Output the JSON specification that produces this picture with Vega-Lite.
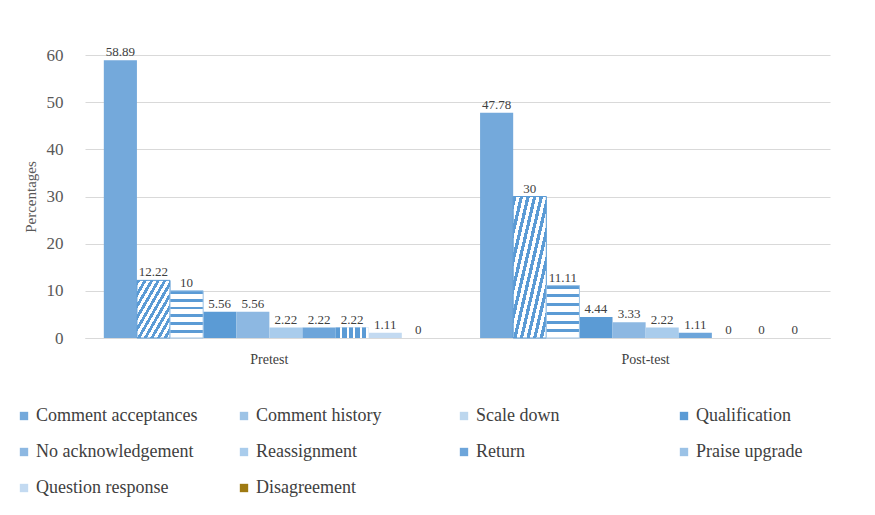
{
  "$schema": "https://vega.github.io/schema/vega-lite/v6.json",
  "width": 745,
  "height": 283,
  "autosize": {"type": "none"},
  "padding": {"left": 85, "top": 55, "right": 45, "bottom": 177},
  "background": "white",
  "config": {"view": {"stroke": null}, "font": "Liberation Serif"},
  "data": {
    "values": [
      {"test": "Pretest", "category": "Comment acceptances", "value": 58.89},
      {"test": "Pretest", "category": "Comment history", "value": 12.22},
      {"test": "Pretest", "category": "Scale down", "value": 10},
      {"test": "Pretest", "category": "Qualification", "value": 5.56},
      {"test": "Pretest", "category": "No acknowledgement", "value": 5.56},
      {"test": "Pretest", "category": "Reassignment", "value": 2.22},
      {"test": "Pretest", "category": "Return", "value": 2.22},
      {"test": "Pretest", "category": "Praise upgrade", "value": 2.22},
      {"test": "Pretest", "category": "Question response", "value": 1.11},
      {"test": "Pretest", "category": "Disagreement", "value": 0},
      {"test": "Post-test", "category": "Comment acceptances", "value": 47.78},
      {"test": "Post-test", "category": "Comment history", "value": 30},
      {"test": "Post-test", "category": "Scale down", "value": 11.11},
      {"test": "Post-test", "category": "Qualification", "value": 4.44},
      {"test": "Post-test", "category": "No acknowledgement", "value": 3.33},
      {"test": "Post-test", "category": "Reassignment", "value": 2.22},
      {"test": "Post-test", "category": "Return", "value": 1.11},
      {"test": "Post-test", "category": "Praise upgrade", "value": 0},
      {"test": "Post-test", "category": "Question response", "value": 0},
      {"test": "Post-test", "category": "Disagreement", "value": 0}
    ]
  },
  "encoding": {
    "x": {
      "field": "test", "type": "nominal", "sort": ["Pretest", "Post-test"],
      "scale": {"paddingInner": 0.12, "paddingOuter": 0.05},
      "axis": {"title": null, "labelAngle": 0, "labelFontSize": 14, "labelColor": "#404040", "domainColor": "#d9d9d9", "ticks": false, "labelPadding": 14}
    },
    "xOffset": {
      "field": "category", "type": "nominal",
      "sort": ["Comment acceptances", "Comment history", "Scale down", "Qualification", "No acknowledgement", "Reassignment", "Return", "Praise upgrade", "Question response", "Disagreement"]
    },
    "y": {
      "field": "value", "type": "quantitative",
      "scale": {"domain": [0, 60]},
      "axis": {"title": "Percentages", "values": [0, 10, 20, 30, 40, 50, 60], "domain": false, "ticks": false, "gridColor": "#d9d9d9", "labelFontSize": 17, "labelColor": "#595959", "labelPadding": 22, "titleFontSize": 15, "titleFontWeight": "normal", "titleColor": "#595959", "titlePadding": 8}
    }
  },
  "layer": [
    {
      "mark": {"type": "bar"},
      "encoding": {
        "color": {
          "field": "category", "type": "nominal",
          "sort": ["Comment acceptances", "Comment history", "Scale down", "Qualification", "No acknowledgement", "Reassignment", "Return", "Praise upgrade", "Question response", "Disagreement"],
          "scale": {"range": ["#74A9DB", "#9DC3E6", "#BDD7EE", "#5B9BD5", "#8DB8E2", "#A9CCEC", "#6DA5DA", "#9BC2E6", "#C3DAF1", "#9E7A12"]},
          "legend": {
            "title": null, "orient": "none", "legendX": -70, "legendY": 352, "direction": "horizontal",
            "columns": 4, "gridAlign": "all", "columnPadding": 37, "rowPadding": 18,
            "labelFontSize": 18, "labelColor": "#404040", "symbolType": "square", "symbolSize": 70, "symbolStrokeWidth": 0, "labelOffset": 3, "labelLimit": 300
          }
        }
      }
    },
    {
      "transform": [{"filter": "datum.category === 'Comment history'"}],
      "mark": {
        "type": "bar", "stroke": "#5B9BD5", "strokeWidth": 1,
        "fill": {
          "gradient": "linear", "x1": 0, "y1": 0, "x2": 1, "y2": 1,
          "stops": [
            {"offset": 0, "color": "#5B9BD5"}, {"offset": 0.05, "color": "#5B9BD5"}, {"offset": 0.05, "color": "#FFFFFF"}, {"offset": 0.1, "color": "#FFFFFF"},
            {"offset": 0.1, "color": "#5B9BD5"}, {"offset": 0.15, "color": "#5B9BD5"}, {"offset": 0.15, "color": "#FFFFFF"}, {"offset": 0.2, "color": "#FFFFFF"},
            {"offset": 0.2, "color": "#5B9BD5"}, {"offset": 0.25, "color": "#5B9BD5"}, {"offset": 0.25, "color": "#FFFFFF"}, {"offset": 0.3, "color": "#FFFFFF"},
            {"offset": 0.3, "color": "#5B9BD5"}, {"offset": 0.35, "color": "#5B9BD5"}, {"offset": 0.35, "color": "#FFFFFF"}, {"offset": 0.4, "color": "#FFFFFF"},
            {"offset": 0.4, "color": "#5B9BD5"}, {"offset": 0.45, "color": "#5B9BD5"}, {"offset": 0.45, "color": "#FFFFFF"}, {"offset": 0.5, "color": "#FFFFFF"},
            {"offset": 0.5, "color": "#5B9BD5"}, {"offset": 0.55, "color": "#5B9BD5"}, {"offset": 0.55, "color": "#FFFFFF"}, {"offset": 0.6, "color": "#FFFFFF"},
            {"offset": 0.6, "color": "#5B9BD5"}, {"offset": 0.65, "color": "#5B9BD5"}, {"offset": 0.65, "color": "#FFFFFF"}, {"offset": 0.7, "color": "#FFFFFF"},
            {"offset": 0.7, "color": "#5B9BD5"}, {"offset": 0.75, "color": "#5B9BD5"}, {"offset": 0.75, "color": "#FFFFFF"}, {"offset": 0.8, "color": "#FFFFFF"},
            {"offset": 0.8, "color": "#5B9BD5"}, {"offset": 0.85, "color": "#5B9BD5"}, {"offset": 0.85, "color": "#FFFFFF"}, {"offset": 0.9, "color": "#FFFFFF"},
            {"offset": 0.9, "color": "#5B9BD5"}, {"offset": 0.95, "color": "#5B9BD5"}, {"offset": 0.95, "color": "#FFFFFF"}, {"offset": 1, "color": "#FFFFFF"}
          ]
        }
      }
    },
    {
      "transform": [{"filter": "datum.category === 'Scale down'"}],
      "mark": {
        "type": "bar", "stroke": "#9DC3E6", "strokeWidth": 1,
        "fill": {
          "gradient": "linear", "x1": 0, "y1": 0, "x2": 0, "y2": 1,
          "stops": [
            {"offset": 0, "color": "#5B9BD5"}, {"offset": 0.06, "color": "#5B9BD5"}, {"offset": 0.06, "color": "#FFFFFF"}, {"offset": 0.1667, "color": "#FFFFFF"},
            {"offset": 0.1667, "color": "#5B9BD5"}, {"offset": 0.2267, "color": "#5B9BD5"}, {"offset": 0.2267, "color": "#FFFFFF"}, {"offset": 0.3333, "color": "#FFFFFF"},
            {"offset": 0.3333, "color": "#5B9BD5"}, {"offset": 0.3933, "color": "#5B9BD5"}, {"offset": 0.3933, "color": "#FFFFFF"}, {"offset": 0.5, "color": "#FFFFFF"},
            {"offset": 0.5, "color": "#5B9BD5"}, {"offset": 0.56, "color": "#5B9BD5"}, {"offset": 0.56, "color": "#FFFFFF"}, {"offset": 0.6667, "color": "#FFFFFF"},
            {"offset": 0.6667, "color": "#5B9BD5"}, {"offset": 0.7267, "color": "#5B9BD5"}, {"offset": 0.7267, "color": "#FFFFFF"}, {"offset": 0.8333, "color": "#FFFFFF"},
            {"offset": 0.8333, "color": "#5B9BD5"}, {"offset": 0.8933, "color": "#5B9BD5"}, {"offset": 0.8933, "color": "#FFFFFF"}, {"offset": 1, "color": "#FFFFFF"}
          ]
        }
      }
    },
    {
      "transform": [{"filter": "datum.category === 'Praise upgrade'"}],
      "mark": {
        "type": "bar",
        "fill": {
          "gradient": "linear", "x1": 0, "y1": 0, "x2": 1, "y2": 0,
          "stops": [
            {"offset": 0, "color": "#5B9BD5"}, {"offset": 0.13, "color": "#5B9BD5"}, {"offset": 0.13, "color": "#FFFFFF"}, {"offset": 0.2, "color": "#FFFFFF"},
            {"offset": 0.2, "color": "#5B9BD5"}, {"offset": 0.33, "color": "#5B9BD5"}, {"offset": 0.33, "color": "#FFFFFF"}, {"offset": 0.4, "color": "#FFFFFF"},
            {"offset": 0.4, "color": "#5B9BD5"}, {"offset": 0.53, "color": "#5B9BD5"}, {"offset": 0.53, "color": "#FFFFFF"}, {"offset": 0.6, "color": "#FFFFFF"},
            {"offset": 0.6, "color": "#5B9BD5"}, {"offset": 0.73, "color": "#5B9BD5"}, {"offset": 0.73, "color": "#FFFFFF"}, {"offset": 0.8, "color": "#FFFFFF"},
            {"offset": 0.8, "color": "#5B9BD5"}, {"offset": 0.93, "color": "#5B9BD5"}, {"offset": 0.93, "color": "#FFFFFF"}, {"offset": 1, "color": "#FFFFFF"}
          ]
        }
      }
    },
    {
      "mark": {"type": "text", "dy": -8, "fontSize": 13, "fill": "#404040"},
      "encoding": {"text": {"field": "value", "type": "quantitative"}}
    }
  ]
}
